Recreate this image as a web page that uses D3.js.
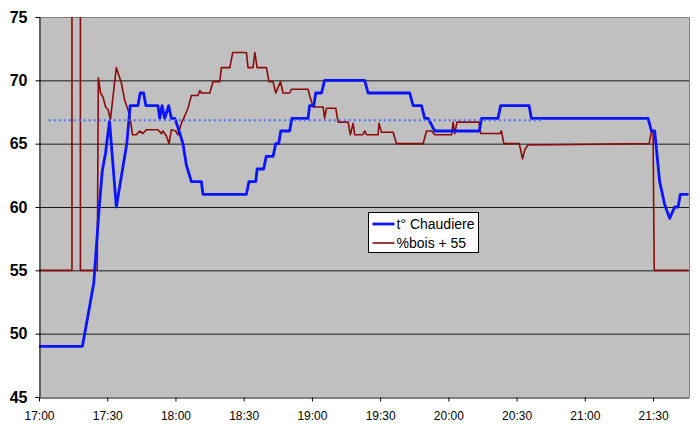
<!DOCTYPE html>
<html>
<head>
<meta charset="utf-8">
<script src="https://cdn.jsdelivr.net/npm/d3@7"></script>
<style>
  html, body { margin: 0; padding: 0; background: #ffffff; }
  svg { display: block; font-family: Arial, "Liberation Sans", sans-serif; }
</style>
</head>
<body>
<svg id="chart" width="700" height="430"></svg>
<script>
// ---- data (minutes after 17:00) ----
const xTickLabels = ["17:00","17:30","18:00","18:30","19:00","19:30","20:00","20:30","21:00","21:30"];
const yTickValues = [45, 50, 55, 60, 65, 70, 75];

const seriesNames = ["t\u00B0 Chaudiere", "%bois + 55"];

const chaudiereMinutes = [0, 19.1, 24.1, 26.4, 27.8, 29.3, 31.0, 34.0, 36.3, 38.6, 40.1, 43.5, 44.5, 46.0, 47.0,
  52.3, 53.1, 54.1, 55.3, 57.0, 58.2, 59.7, 60.7, 61.9, 63.3, 64.8, 65.5, 67.0, 71.4, 72.1,
  91.2, 92.3, 95.3, 95.9, 98.8, 99.9, 102.9, 104.1, 105.4, 106.3, 110.2, 111.2, 118.3, 119.0, 120.8, 121.7,
  124.2, 125.6, 143.2, 144.7, 163.0, 164.5, 168.2, 169.6, 171.1, 174.0, 193.6, 194.6, 201.8, 203.0,
  215.5, 216.5, 267.8, 269.3, 270.7, 272.9, 275.1, 277.3, 279.5, 281.0, 282.0, 285.6];
const chaudiereValues = [49, 49, 54, 59.8, 62.8, 64.3, 66.8, 60, 62.5, 65, 68, 68, 69, 69, 68,
  68, 67, 68, 67, 68, 67, 67, 66.5, 65.8, 65, 63.3, 62.9, 62, 62, 61,
  61, 62, 62, 63, 63, 64, 64, 65, 65, 66, 66, 67, 67, 68, 68, 69,
  69, 70, 70, 69, 69, 68, 68, 67, 67, 66, 66, 67, 67, 68,
  68, 67, 67, 66, 66, 62, 60.2, 59.1, 60, 60, 61, 61];

const boisMinutes = [0, 14.5, 14.5, 18.2, 18.2, 25.6, 26.1, 27.1, 28.1, 29.3, 30.3, 31.4, 34.0, 36.2, 37.7,
  39.1, 40.2, 41.1, 42.8, 44.3, 45.7, 47.2, 52.3, 53.8, 54.5, 56.0, 57.2, 58.2, 60.1, 61.1, 62.6,
  64.1, 65.5, 67.0, 69.9, 70.7, 71.4, 75.1, 76.5, 79.5, 80.2, 83.9, 85.2, 91.2, 91.9, 94.1, 94.9,
  95.9, 100.0, 101.1, 102.9, 104.1, 106.2, 107.3, 110.2, 111.0, 118.3, 119.0, 120.5, 124.9, 125.6,
  126.4, 130.5, 131.5, 135.9, 136.9, 138.1, 138.8, 142.3, 143.2, 144.1, 149.1, 149.5, 150.6, 155.7,
  157.2, 168.9, 170.4, 172.6, 174.0, 181.4, 182.1, 182.8, 183.8, 193.4, 194.2, 202.6, 203.3, 204.4,
  211.1, 211.8, 212.6, 213.6, 214.9, 268.3, 269.3, 270.0, 270.5, 285.6];
const boisValues = [55, 55, 155, 155, 55, 55, 70.2, 69, 68.7, 67.9, 67.7, 66.9, 71, 69.8, 68.4,
  67.7, 66.9, 65.7, 65.7, 66, 65.8, 66.1, 66.1, 65.8, 66, 65.6, 65, 66.1, 66, 65.7, 66.6,
  67.2, 67.8, 68.8, 68.8, 69.2, 69, 69, 69.9, 69.9, 71, 71, 72.2, 72.2, 71, 71, 72.2,
  71, 71, 69.9, 69.9, 69, 69.9, 69, 69, 69.3, 69.3, 68.8, 67.9, 67.9, 67,
  67.8, 67.8, 66.7, 66.7, 65.7, 66.6, 65.7, 65.7, 66, 65.7, 65.7, 66.6, 65.9, 65.9,
  65, 65, 66, 66, 65.7, 65.7, 66.7, 65.8, 66.7, 66.7, 65.8, 65.8, 66, 65,
  65, 64.5, 63.8, 64.5, 64.9, 65, 66, 66, 55, 55];

const moyenneMinutes = [4.3, 220.9];
const moyenneValues = [66.85, 66.85];

// ---- layout ----
const svg = d3.select("#chart");
const M = { left: 39, right: 689, top: 17, bottom: 397 };
const base = new Date(2000, 0, 1, 17, 0, 0);
const toDate = m => new Date(base.getTime() + m * 60000);
const parseTick = d3.timeParse("%H:%M");
const tickDates = xTickLabels.map(s => { const t = parseTick(s); return new Date(2000, 0, 1, t.getHours(), t.getMinutes()); });

const x = d3.scaleTime().domain([base, toDate(285.8)]).range([M.left, M.right]);
const y = d3.scaleLinear().domain([45, 75]).range([M.bottom, M.top]);

// plot background
svg.append("rect").attr("x", M.left).attr("y", M.top)
  .attr("width", M.right - M.left).attr("height", M.bottom - M.top)
  .attr("fill", "#c0c0c0");

// gridlines
svg.append("g").selectAll("line").data(yTickValues.filter(v => v > 45 && v < 75)).join("line")
  .attr("x1", M.left).attr("x2", M.right)
  .attr("y1", d => y(d) + 0.5).attr("y2", d => y(d) + 0.5)
  .attr("stroke", "#1a1a1a").attr("stroke-width", 1);

// plot border (top/right grey)
svg.append("path")
  .attr("d", `M${M.left},${M.top + 0.5}H${M.right + 0.5}V${M.bottom}`)
  .attr("fill", "none").attr("stroke", "#808080").attr("stroke-width", 1);

svg.append("defs").append("clipPath").attr("id", "clip")
  .append("rect").attr("x", M.left).attr("y", M.top)
  .attr("width", M.right - M.left).attr("height", M.bottom - M.top);

const g = svg.append("g").attr("clip-path", "url(#clip)");

const line = d3.line().x(d => x(toDate(d[0]))).y(d => y(d[1]));

const boisData = boisMinutes.map((m, i) => [m, boisValues[i]]);
const chaudData = chaudiereMinutes.map((m, i) => [m, chaudiereValues[i]]);
const moyData = moyenneMinutes.map((m, i) => [m, moyenneValues[i]]);

g.append("path").datum(boisData).attr("d", line)
  .attr("fill", "none").attr("stroke", "#8b0a0a").attr("stroke-width", 1.6)
  .attr("stroke-linejoin", "round");

g.append("path").datum(chaudData).attr("d", line)
  .attr("fill", "none").attr("stroke", "#0a14ff").attr("stroke-width", 2.8)
  .attr("stroke-linejoin", "round");

g.append("path").datum(moyData).attr("d", line)
  .attr("fill", "none").attr("stroke", "#4a6cff").attr("stroke-width", 2)
  .attr("stroke-dasharray", "2,3");

// axes
const yAxis = d3.axisLeft(y).tickValues(yTickValues).tickSize(4).tickPadding(8);
const yg = svg.append("g").attr("transform", `translate(${M.left + 0.5},0)`).call(yAxis);
yg.select(".domain").attr("stroke", "#000");
yg.selectAll(".tick line").attr("stroke", "#000");
yg.selectAll("text").attr("font-size", 16).attr("font-weight", "bold")
  .attr("fill", "#000").attr("font-family", "Arial, 'Liberation Sans', sans-serif");

const xAxis = d3.axisBottom(x).tickValues(tickDates).tickFormat(d3.timeFormat("%H:%M"))
  .tickSize(4).tickPadding(10).tickSizeOuter(0);
const xg = svg.append("g").attr("transform", `translate(0,${M.bottom + 0.5})`).call(xAxis);
xg.select(".domain").attr("stroke", "#000");
xg.selectAll(".tick line").attr("stroke", "#000");
xg.selectAll("text").attr("font-size", 12).attr("fill", "#000")
  .attr("font-family", "Arial, 'Liberation Sans', sans-serif");

// legend
const lg = svg.append("g").attr("transform", "translate(368.5,212.5)");
lg.append("rect").attr("width", 110).attr("height", 40)
  .attr("fill", "#ffffff").attr("stroke", "#000").attr("stroke-width", 1);
const legendColors = ["#0a14ff", "#8b0a0a"];
const legendWidths = [2.8, 1.6];
seriesNames.forEach((name, i) => {
  const yy = 11.5 + i * 19;
  lg.append("line").attr("x1", 4).attr("x2", 26).attr("y1", yy).attr("y2", yy)
    .attr("stroke", legendColors[i]).attr("stroke-width", legendWidths[i]);
  lg.append("text").attr("x", 28).attr("y", yy).attr("dy", "0.36em")
    .attr("font-size", 14).attr("fill", "#000").text(name);
});
</script>
</body>
</html>
